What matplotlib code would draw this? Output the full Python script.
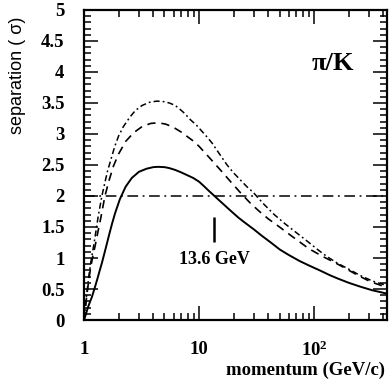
import numpy as np
import matplotlib
matplotlib.use("Agg")
import matplotlib.pyplot as plt
from matplotlib.ticker import LogLocator, MultipleLocator, FixedLocator, FixedFormatter

plt.rcParams["mathtext.fontset"] = "custom"
plt.rcParams["mathtext.bf"] = "Liberation Serif:bold"
plt.rcParams["mathtext.rm"] = "Liberation Serif:bold"

# momentum (GeV/c) and separation (sigma)
solid_p = [1.0, 1.04, 1.08, 1.12, 1.17, 1.23, 1.3, 1.36, 1.43, 1.54, 1.65, 1.75, 1.86,
           2.05, 2.3, 2.6, 3.0, 3.5, 4.0, 4.4, 5.0, 5.5, 6.2, 7, 8, 8.9, 10, 11, 12.2,
           13.6, 16, 18.6, 22, 25, 30, 35, 42, 50, 60, 75, 90, 112, 138, 160, 200, 250,
           320, 420]
solid_s = [0.0, 0.1, 0.2, 0.28, 0.37, 0.5, 0.65, 0.78, 0.92, 1.15, 1.37, 1.55, 1.72,
           1.95, 2.15, 2.29, 2.39, 2.44, 2.465, 2.47, 2.465, 2.45, 2.42, 2.38, 2.33,
           2.29, 2.23, 2.16, 2.08, 2.0, 1.88, 1.77, 1.65, 1.57, 1.46, 1.36, 1.25, 1.14,
           1.05, 0.95, 0.88, 0.8, 0.72, 0.67, 0.6, 0.54, 0.48, 0.43]

dashed_p = [1.0, 1.05, 1.1, 1.15, 1.2, 1.25, 1.32, 1.4, 1.52, 1.65, 1.8, 2.0, 2.3, 2.7,
            3.2, 3.8, 4.4, 5.1, 5.95, 7, 8, 9, 10, 12.4, 14, 16, 19, 22.7, 27.7, 33, 40,
            50, 60, 71, 90, 120, 150, 180, 240, 307, 420]
dashed_s = [0.0, 0.35, 0.65, 0.88, 1.05, 1.2, 1.42, 1.65, 2.0, 2.25, 2.48, 2.68, 2.88,
            3.02, 3.12, 3.17, 3.18, 3.16, 3.11, 3.03, 2.95, 2.88, 2.8, 2.61, 2.5, 2.38,
            2.22, 2.06, 1.89, 1.76, 1.63, 1.5, 1.39, 1.29, 1.15, 1.02, 0.93, 0.85, 0.72,
            0.62, 0.53]

dashdot_p = [1.0, 1.05, 1.1, 1.15, 1.2, 1.25, 1.33, 1.43, 1.52, 1.6, 1.72, 1.85, 2.0,
             2.2, 2.5, 2.8, 3.2, 3.7, 4.3, 5.0, 5.5, 6.2, 6.8, 7.5, 8.4, 9.5, 10.5, 12,
             13, 15, 17.5, 20, 22.8, 26, 29.5, 36, 45, 56, 71, 90, 110, 130, 158, 200,
             250, 320, 420]
dashdot_s = [0.0, 0.38, 0.7, 0.95, 1.15, 1.35, 1.68, 2.0, 2.22, 2.4, 2.6, 2.8, 2.97,
             3.12, 3.27, 3.38, 3.46, 3.51, 3.53, 3.52, 3.5, 3.46, 3.4, 3.33, 3.23, 3.14,
             3.05, 2.93, 2.85, 2.68, 2.5, 2.37, 2.26, 2.15, 2.06, 1.88, 1.7, 1.55, 1.4,
             1.25, 1.12, 1.02, 0.92, 0.82, 0.72, 0.63, 0.56]

threshold = 2.0
marker_p = 13.6
marker_lo, marker_hi = 1.26, 1.66
xticks = [1, 10, 100]
xticklabels = ["1", "10", r"$\mathbf{10^{2}}$"]
yticks = [0, 0.5, 1, 1.5, 2, 2.5, 3, 3.5, 4, 4.5, 5]
yticklabels = ["0", "0.5", "1", "1.5", "2", "2.5", "3", "3.5", "4", "4.5", "5"]


def main():
    fig = plt.figure(figsize=(3.89, 3.81), dpi=100)
    ax = fig.add_axes([0.216, 0.16, 0.779, 0.814])

    ax.plot(solid_p, solid_s, color="black", lw=1.4, ls="-")
    ax.plot(dashed_p, dashed_s, color="black", lw=1.2, ls=(0, (5, 3.5)))
    ax.plot(dashdot_p, dashdot_s, color="black", lw=1.1, ls=(0, (4, 2, 1.2, 2)))
    ax.axhline(threshold, color="black", lw=1.1, ls=(0, (7, 3, 1.2, 3)))
    ax.vlines(marker_p, marker_lo, marker_hi, color="black", lw=1.8)

    ax.text(marker_p, 0.97, "13.6 GeV", ha="center", va="center",
            family="Liberation Serif", weight="bold", fontsize=13)
    ax.text(0.82, 0.826, "π/K", transform=ax.transAxes, ha="center", va="center",
            family="Liberation Serif", weight="bold", fontsize=19)

    ax.set_xscale("log")
    ax.set_xlim(1, 430)
    ax.set_ylim(0, 5)

    ax.xaxis.set_major_locator(FixedLocator(xticks))
    ax.xaxis.set_major_formatter(FixedFormatter(xticklabels))
    ax.xaxis.set_minor_locator(LogLocator(base=10, subs=np.arange(2, 10)))
    ax.xaxis.set_minor_formatter(FixedFormatter([]))
    ax.set_yticks(yticks)
    ax.set_yticklabels(yticklabels)
    ax.yaxis.set_minor_locator(MultipleLocator(0.1))

    ax.tick_params(which="both", direction="in", top=True, right=True, width=1.1)
    ax.tick_params(which="major", length=10)
    ax.tick_params(which="minor", length=5)
    ax.tick_params(axis="y", which="major", pad=14)
    ax.tick_params(axis="x", which="major", pad=15)
    for lab in ax.get_xticklabels() + ax.get_yticklabels():
        lab.set_family("Liberation Serif")
        lab.set_weight("bold")
        lab.set_fontsize(13.5)
    for sp in ax.spines.values():
        sp.set_linewidth(1.6)

    fig.text(0.046, 0.803, "separation ( σ)", rotation=90, ha="center", va="center",
             family="Liberation Sans", fontsize=13)
    fig.text(0.99, 0.029, "momentum (GeV/c)", ha="right", va="center",
             family="Liberation Serif", weight="bold", fontsize=13.5)

    fig.savefig("out.png", dpi=100)


if __name__ == "__main__":
    main()
